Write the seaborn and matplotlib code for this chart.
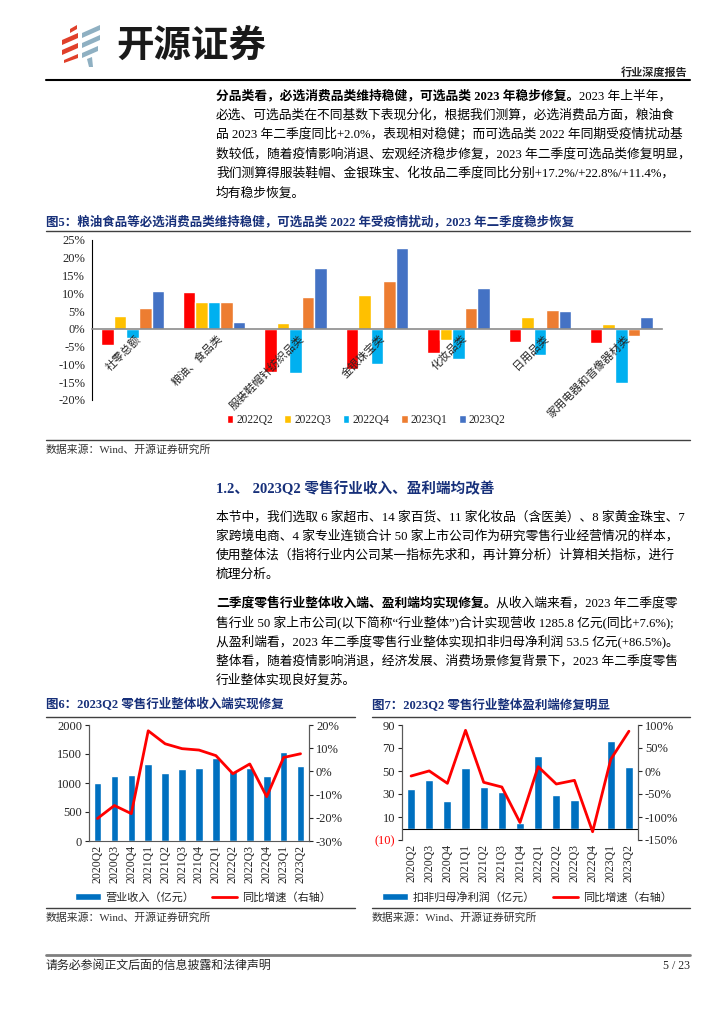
import numpy as np
import pandas as pd
import matplotlib
matplotlib.use("Agg")
import matplotlib.pyplot as plt
import matplotlib.transforms as mtransforms
import seaborn as sns
from matplotlib.lines import Line2D
from matplotlib.patches import Patch, Polygon
from matplotlib.ticker import FuncFormatter, FixedLocator

W, H = 724, 1024

# Figure 5: year-on-year growth by category (%)
categories = ["社零总额", "粮油、食品类", "服装鞋帽针纺织品类", "金银珠宝类",
              "化妆品类", "日用品类", "家用电器和音像器材类"]
periods = ["2022Q2", "2022Q3", "2022Q4", "2023Q1", "2023Q2"]
yoy_2022q2 = [-4.6, 10.3, -12.2, -11.2, -6.7, -3.7, -3.9]
yoy_2022q3 = [3.6, 7.6, 1.6, 9.5, -3.2, 3.3, 1.3]
yoy_2022q4 = [-2.7, 7.6, -12.3, -9.8, -8.5, -7.3, -15.2]
yoy_2023q1 = [5.8, 7.6, 8.9, 13.5, 5.9, 5.2, -1.9]
yoy_2023q2 = [10.7, 2.0, 17.2, 22.8, 11.4, 4.9, 3.3]
period_colors = ["#FF0000", "#FFC000", "#00B0F0", "#ED7D31", "#4472C4"]

# Figures 6 and 7: retail industry totals
quarters = ["2020Q2", "2020Q3", "2020Q4", "2021Q1", "2021Q2", "2021Q3", "2021Q4",
            "2022Q1", "2022Q2", "2022Q3", "2022Q4", "2023Q1", "2023Q2"]
revenue = [1000, 1121, 1138, 1328, 1172, 1241, 1253, 1437, 1207, 1264, 1115, 1529, 1286]
revenue_yoy = [-20.3, -14.7, -18.2, 17.5, 11.9, 9.8, 9.2, 6.8, -1.0, 3.2, -10.9, 6.0, 7.6]
profit = [34.6, 42.2, 23.6, 52.9, 36.1, 31.7, 4.8, 62.8, 29.1, 25.1, -1.5, 76.1, 53.5]
profit_yoy = [-10.9, 0.2, -26.8, 88.4, -24.6, -34.8, -112.0, 9.4, -28.3, -20.3, -132.0, 25.4, 86.5]

NAVY = "#17307A"
BAR_BLUE = "#0070C0"
LINE_GAP = 19.4

sns.set_style("white")
plt.rcParams["font.family"] = ["Liberation Serif", "Noto Sans CJK SC"]
plt.rcParams["axes.unicode_minus"] = False

fig = plt.figure(figsize=(W / 100, H / 100), dpi=100)
renderer = fig.canvas.get_renderer()


def fx(x):
    return x / W


def fy(y):
    return 1 - y / H


def px_axes(x0, y0, x1, y1):
    return fig.add_axes([fx(x0), fy(y1), (x1 - x0) / W, (y1 - y0) / H])


def hline(x0, x1, y, color="#404040", lw=1.0):
    fig.add_artist(Line2D([fx(x0), fx(x1)], [fy(y), fy(y)], color=color, lw=lw,
                          transform=fig.transFigure))


def text_line(x, y, parts, size=9.2, color="black"):
    # parts: list of (string, weight); drawn one after another
    for s, weight in parts:
        t = fig.text(fx(x), fy(y), s, fontsize=size, fontweight=weight, color=color,
                     va="center", ha="left")
        x = t.get_window_extent(renderer=renderer).x1


# ---- header ----
red_strokes = [[(70, 29), (77, 25), (77, 29), (70, 33)],
               [(62, 40), (78, 33), (78, 38), (62, 45)],
               [(62, 50), (78, 43), (78, 48), (62, 55)],
               [(64, 60), (78, 54), (78, 58), (64, 63)]]
gray_strokes = [[(82, 33), (100, 25), (100, 30), (82, 38)],
                [(82, 43), (100, 35), (100, 40), (82, 48)],
                [(82, 53), (98, 46), (98, 51), (82, 58)],
                [(87, 59), (92, 57), (93, 67), (89, 67)]]
for pts, col in [(p, "#E0402B") for p in red_strokes] + [(p, "#8FB0C2") for p in gray_strokes]:
    fig.add_artist(Polygon([(fx(a), fy(b)) for a, b in pts], closed=True, facecolor=col,
                           edgecolor="none", transform=fig.transFigure))
fig.text(fx(116), fy(45), "开源证券", fontsize=27, fontweight="bold", color="#1A1A1A",
         va="center", ha="left", family="Noto Sans CJK SC")
fig.text(fx(688), fy(73), "行业深度报告", fontsize=8, fontweight="bold", va="center", ha="right")
hline(46, 690, 80, color="black", lw=1.5)

# ---- paragraph 1 ----
para1 = [
    [("分品类看，必选消费品类维持稳健，可选品类 2023 年稳步修复。", "bold"), ("2023 年上半年，", "normal")],
    [("必选、可选品类在不同基数下表现分化，根据我们测算，必选消费品方面，粮油食", "normal")],
    [("品 2023 年二季度同比+2.0%，表现相对稳健；而可选品类 2022 年同期受疫情扰动基", "normal")],
    [("数较低，随着疫情影响消退、宏观经济稳步修复，2023 年二季度可选品类修复明显，", "normal")],
    [("我们测算得服装鞋帽、金银珠宝、化妆品二季度同比分别+17.2%/+22.8%/+11.4%，", "normal")],
    [("均有稳步恢复。", "normal")],
]
for i, parts in enumerate(para1):
    text_line(216, 96 + i * LINE_GAP, parts)

# ---- figure 5 ----
fig.text(fx(46), fy(222), "图5：粮油食品等必选消费品类维持稳健，可选品类 2022 年受疫情扰动，2023 年二季度稳步恢复",
         fontsize=9, fontweight="bold", color=NAVY, va="center")
hline(46, 690, 231)

df5 = pd.DataFrame({
    "category": categories * len(periods),
    "period": [p for p in periods for _ in categories],
    "value": yoy_2022q2 + yoy_2022q3 + yoy_2022q4 + yoy_2023q1 + yoy_2023q2,
})
ax5 = px_axes(92, 240, 662, 400)
sns.barplot(data=df5, x="category", y="value", hue="period", hue_order=periods,
            palette=period_colors, saturation=1, width=0.77, gap=0, ax=ax5)
ax5.set_xlim(-0.5, len(categories) - 0.5)
ax5.set_ylim(-20, 25)
ax5.set_yticks(np.arange(-20, 26, 5))
ax5.yaxis.set_major_formatter(FuncFormatter(lambda v, p: f"{v:.0f}%"))
ax5.set_xlabel("")
ax5.set_ylabel("")
for side in ["top", "right"]:
    ax5.spines[side].set_visible(False)
ax5.spines["left"].set_color("black")
ax5.spines["left"].set_linewidth(0.8)
ax5.spines["bottom"].set_position(("data", 0))
ax5.spines["bottom"].set_color("#8C8C8C")
ax5.spines["bottom"].set_linewidth(1.2)
ax5.set_xticks(np.arange(-0.5, len(categories), 1.0))
ax5.set_xticklabels([])
ax5.tick_params(axis="x", direction="out", length=3, color="#8C8C8C", width=1)
ax5.tick_params(axis="y", direction="out", length=3, width=0.8, labelsize=9, pad=2)
lab_tr = mtransforms.offset_copy(ax5.transData, fig=fig, x=2, y=-3, units="points")
for i, c in enumerate(categories):
    ax5.text(i, 0, c, rotation=45, ha="right", va="top", rotation_mode="anchor",
             fontsize=8, transform=lab_tr)
sns.move_legend(ax5, "center", bbox_to_anchor=(fx(366), fy(420)), bbox_transform=fig.transFigure,
                ncol=5, frameon=False, title=None, fontsize=8.3, handlelength=0.6,
                handleheight=0.6, handletextpad=0.25, columnspacing=1.0)
hline(46, 690, 440)
fig.text(fx(46), fy(450), "数据来源：Wind、开源证券研究所", fontsize=7.8, color="#333333", va="center")

# ---- section 1.2 ----
fig.text(fx(216), fy(489), "1.2、 2023Q2 零售行业收入、盈利端均改善", fontsize=10.5,
         fontweight="bold", color=NAVY, va="center")
para2 = [
    "本节中，我们选取 6 家超市、14 家百货、11 家化妆品（含医美）、8 家黄金珠宝、7",
    "家跨境电商、4 家专业连锁合计 50 家上市公司作为研究零售行业经营情况的样本，",
    "使用整体法（指将行业内公司某一指标先求和，再计算分析）计算相关指标，进行",
    "梳理分析。",
]
for i, s in enumerate(para2):
    text_line(216, 517 + i * LINE_GAP, [(s, "normal")])
para3 = [
    [("二季度零售行业整体收入端、盈利端均实现修复。", "bold"), ("从收入端来看，2023 年二季度零", "normal")],
    [("售行业 50 家上市公司(以下简称“行业整体”)合计实现营收 1285.8 亿元(同比+7.6%);", "normal")],
    [("从盈利端看，2023 年二季度零售行业整体实现扣非归母净利润 53.5 亿元(+86.5%)。", "normal")],
    [("整体看，随着疫情影响消退，经济发展、消费场景修复背景下，2023 年二季度零售", "normal")],
    [("行业整体实现良好复苏。", "normal")],
]
for i, parts in enumerate(para3):
    text_line(216, 603 + i * LINE_GAP, parts)

# ---- figure 6 ----
fig.text(fx(46), fy(705), "图6：2023Q2 零售行业整体收入端实现修复", fontsize=9,
         fontweight="bold", color=NAVY, va="center")
hline(46, 355, 717)
ax6 = px_axes(89, 725, 309, 841)
sns.barplot(x=quarters, y=revenue, color=BAR_BLUE, saturation=1, width=0.45, ax=ax6)
ax6b = ax6.twinx()
sns.lineplot(x=np.arange(len(quarters)), y=revenue_yoy, color="#FF0000", linewidth=2, ax=ax6b)
ax6.set_xlim(-0.5, len(quarters) - 0.5)
ax6.set_ylim(0, 2000)
ax6.set_yticks(np.arange(0, 2001, 500))
ax6b.set_ylim(-30, 20)
ax6b.set_yticks(np.arange(-30, 21, 10))
ax6b.yaxis.set_major_formatter(FuncFormatter(lambda v, p: f"{v:.0f}%"))

# ---- figure 7 ----
fig.text(fx(372), fy(705), "图7：2023Q2 零售行业整体盈利端修复明显", fontsize=9,
         fontweight="bold", color=NAVY, va="center")
hline(372, 690, 717)
ax7 = px_axes(402, 725, 638, 840)
sns.barplot(x=quarters, y=profit, color=BAR_BLUE, saturation=1, width=0.45, ax=ax7)
ax7b = ax7.twinx()
sns.lineplot(x=np.arange(len(quarters)), y=profit_yoy, color="#FF0000", linewidth=2, ax=ax7b)
ax7.set_xlim(-0.5, len(quarters) - 0.5)
ax7.set_ylim(-10, 90)
ticks7 = list(range(-10, 91, 20))
ax7.set_yticks(ticks7, labels=[f"({abs(v)})" if v < 0 else str(v) for v in ticks7])
ax7.get_yticklabels()[0].set_color("#FF0000")
ax7.axhline(0, color="black", lw=0.8)
ax7b.set_ylim(-150, 100)
ax7b.set_yticks(np.arange(-150, 101, 50))
ax7b.yaxis.set_major_formatter(FuncFormatter(lambda v, p: f"{v:.0f}%"))

for a, b, show_bottom in [(ax6, ax6b, True), (ax7, ax7b, False)]:
    a.set_xlabel("")
    a.set_ylabel("")
    b.set_ylabel("")
    for ax in (a, b):
        ax.spines["top"].set_visible(False)
        for side in ["left", "right", "bottom"]:
            ax.spines[side].set_color("#595959")
            ax.spines[side].set_linewidth(0.8)
    b.spines["bottom"].set_visible(False)
    a.spines["bottom"].set_visible(show_bottom)
    a.tick_params(axis="x", rotation=90, length=0, labelsize=8.5, pad=3)
    a.tick_params(axis="y", direction="out", length=3, width=0.8, labelsize=9, pad=2)
    b.tick_params(axis="y", direction="out", length=3, width=0.8, labelsize=9, pad=2)
    if show_bottom:
        a.xaxis.set_minor_locator(FixedLocator(np.arange(-0.5, len(quarters), 1.0)))
        a.tick_params(axis="x", which="minor", direction="out", length=3, color="#595959")

legend_kw = dict(loc="center", ncol=2, frameon=False, fontsize=8, handlelength=2.3,
                 handleheight=0.55, handletextpad=0.4, columnspacing=1.6,
                 bbox_transform=fig.transFigure)
fig.legend([Patch(facecolor=BAR_BLUE), Line2D([0], [0], color="#FF0000", lw=2)],
           ["营业收入（亿元）", "同比增速（右轴）"], bbox_to_anchor=(fx(203), fy(897)), **legend_kw)
fig.legend([Patch(facecolor=BAR_BLUE), Line2D([0], [0], color="#FF0000", lw=2)],
           ["扣非归母净利润（亿元）", "同比增速（右轴）"], bbox_to_anchor=(fx(527), fy(897)), **legend_kw)

hline(46, 355, 908)
hline(372, 690, 908)
fig.text(fx(46), fy(918), "数据来源：Wind、开源证券研究所", fontsize=7.8, color="#333333", va="center")
fig.text(fx(372), fy(918), "数据来源：Wind、开源证券研究所", fontsize=7.8, color="#333333", va="center")

# ---- footer ----
hline(46, 690, 955, color="#7F7F7F", lw=2)
fig.text(fx(46), fy(966), "请务必参阅正文后面的信息披露和法律声明", fontsize=8.6, va="center")
fig.text(fx(690), fy(966), "5 / 23", fontsize=8.6, va="center", ha="right")

fig.savefig("out.png", dpi=100)
plt.close(fig)
print("Saved: out.png")
